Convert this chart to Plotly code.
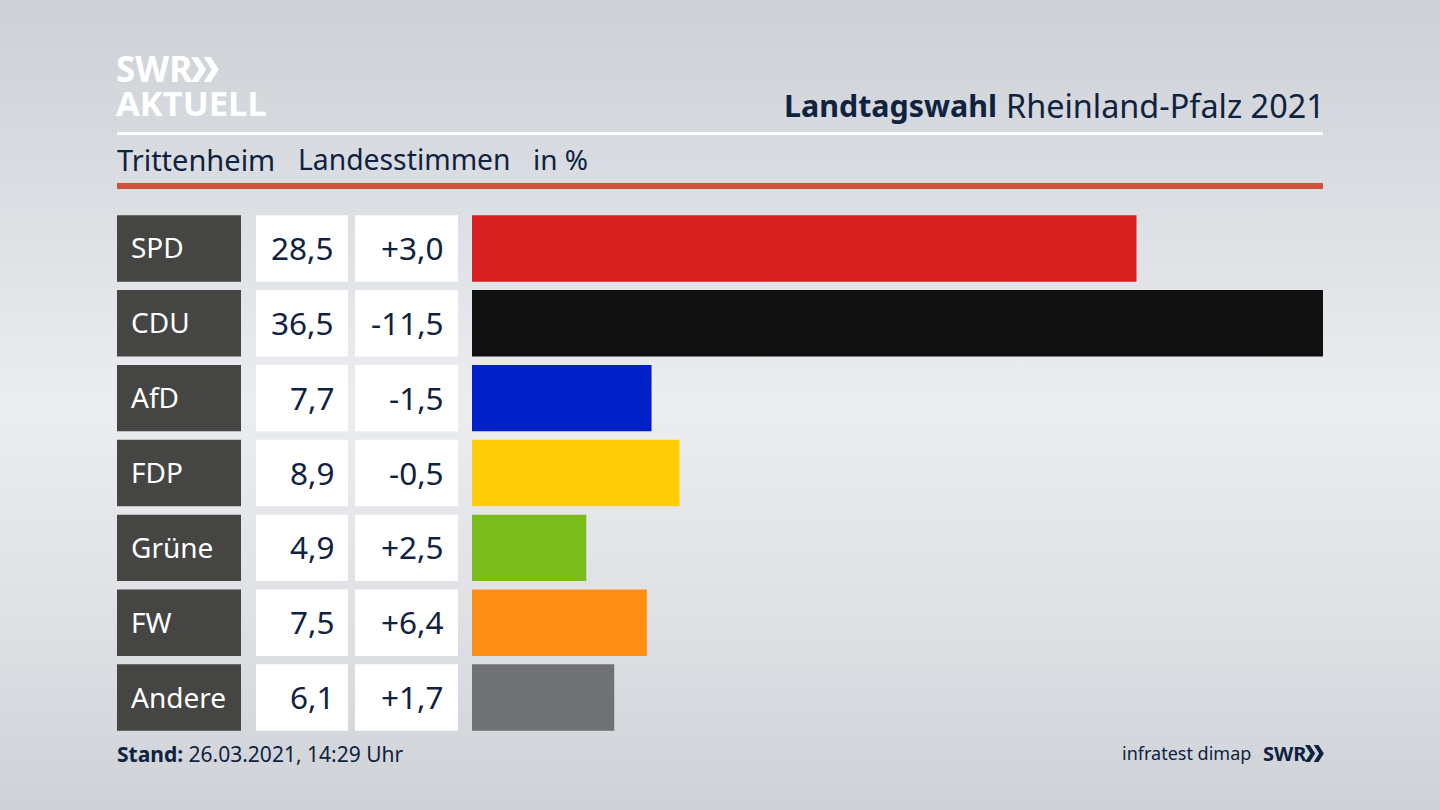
#%%
import urllib.parse
import plotly.graph_objects as go

#%%
parties = ["SPD", "CDU", "AfD", "FDP", "Grüne", "FW", "Andere"]
shares = [28.5, 36.5, 7.7, 8.9, 4.9, 7.5, 6.1]
changes = ["+3,0", "-11,5", "-1,5", "-0,5", "+2,5", "+6,4", "+1,7"]
bar_colors = ["#d81f1f", "#111111", "#0021c8", "#ffcd08", "#7abc19", "#ff8f14", "#707172"]

W, H = 1440, 810
NAVY = "#0f2240"
FONT = "Noto Sans"


def px(x):
    return x / W


def py(y):
    return 1 - y / H


def chevrons(x, y, h, color):
    # the two arrows of the SWR logo, x/y = top left in pixels
    out = []
    w = h * 0.6
    t = h * 0.28
    for i in range(2):
        x0 = x + i * (w * 0.85)
        pts = [(x0, y), (x0 + t, y), (x0 + w, y + h / 2), (x0 + t, y + h), (x0, y + h), (x0 + w - t, y + h / 2)]
        path = "M " + " L ".join(f"{px(a):.5f},{py(b):.5f}" for a, b in pts) + " Z"
        out.append(dict(type="path", xref="paper", yref="paper", path=path, fillcolor=color, line_width=0))
    return out


def rect(x0, y0, x1, y1, color):
    return dict(type="rect", xref="paper", yref="paper", x0=px(x0), x1=px(x1), y0=py(y0), y1=py(y1),
                fillcolor=color, line_width=0, layer="below")


def label(x, y, text, size, color=NAVY, anchor="left", yref="paper", **kw):
    return dict(x=px(x), y=py(y) if yref == "paper" else y, xref="paper", yref=yref, text=text, showarrow=False,
                xanchor=anchor, yanchor="middle", font=dict(family=FONT, size=size, color=color),
                borderpad=0, borderwidth=0, **kw)


#%%
fig = go.Figure(
    go.Bar(
        x=shares,
        y=parties,
        orientation="h",
        marker=dict(color=bar_colors, line_width=0),
        width=0.887,
        hoverinfo="skip",
    )
)

shapes = [rect(117, 132, 1323, 135, "#ffffff"), rect(117, 183, 1323, 189, "#cf5238")]
annotations = [
    label(784, 105, "<b>Landtagswahl</b>", 30.4),
    label(1324.5, 105, "Rheinland-Pfalz 2021", 32.4, anchor="right"),
    label(117, 159, "Trittenheim", 29),
    label(298, 159, "Landesstimmen", 28.3),
    label(533, 159, "in %", 28),
    label(117, 754, "<b>Stand:</b> 26.03.2021, 14:29 Uhr", 21),
    label(1122, 753, "infratest dimap", 18),
    label(1263, 753, "<b>SWR</b>", 20),
    label(116, 69, "<b>SWR</b>", 35, "#ffffff", height=33),
    label(116, 103, "<b>AKTUELL</b>", 34.5, "#ffffff", height=33),
]
shapes += chevrons(191, 57, 25, "#ffffff")
shapes += chevrons(1305, 745, 17, NAVY)

# cells left of the bars, one row per party
for i, party in enumerate(parties):
    for x0, x1, color in [(117, 241, "#454543"), (256, 348, "#ffffff"), (355, 458, "#ffffff")]:
        shapes.append(dict(type="rect", xref="paper", yref="y", x0=px(x0), x1=px(x1), y0=i - 0.4435, y1=i + 0.4435,
                           fillcolor=color, line_width=0, layer="below"))
    annotations.append(label(131, party, party, 28, "#ffffff", yref="y", yshift=1))
    annotations.append(label(334, party, f"{shares[i]}".replace(".", ","), 31.5, anchor="right", yref="y", yshift=1))
    annotations.append(label(444, party, changes[i], 31.5, anchor="right", yref="y", yshift=1))

# soft grey background: vertical gradient, lighter in the middle
svg = (
    f'<svg xmlns="http://www.w3.org/2000/svg" width="{W}" height="{H}">'
    '<defs><linearGradient id="g" x1="0" y1="0" x2="0" y2="1">'
    '<stop offset="0%" stop-color="#cdd1d6"/><stop offset="25%" stop-color="#dbdee2"/>'
    '<stop offset="50%" stop-color="#ebedf1"/><stop offset="75%" stop-color="#dfe1e5"/>'
    '<stop offset="100%" stop-color="#ced2d7"/></linearGradient></defs>'
    f'<rect width="{W}" height="{H}" fill="url(#g)"/></svg>'
)

fig.update_layout(
    width=W,
    height=H,
    margin=dict(l=0, r=0, t=0, b=0),
    paper_bgcolor="#e2e4ea",
    plot_bgcolor="rgba(0,0,0,0)",
    showlegend=False,
    shapes=shapes,
    annotations=annotations,
    images=[dict(source="data:image/svg+xml," + urllib.parse.quote(svg), xref="paper", yref="paper", x=0, y=1,
                 sizex=1, sizey=1, xanchor="left", yanchor="top", sizing="stretch", layer="below")],
    xaxis=dict(domain=[px(472), px(1323)], range=[0, 36.5], visible=False, fixedrange=True),
    yaxis=dict(domain=[py(735), py(211)], range=[6.5, -0.5], type="category", visible=False, fixedrange=True,
               categoryorder="array", categoryarray=parties),
)

fig.write_html("out.html", config={"displayModeBar": False},
               post_script="document.body.style.margin='0';document.body.style.background='#e2e4ea';")
